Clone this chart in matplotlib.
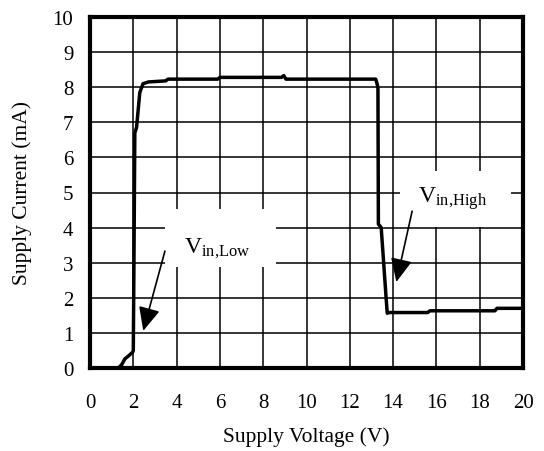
import matplotlib
matplotlib.use("Agg")
import matplotlib.pyplot as plt
from matplotlib.patches import Rectangle

plt.rcParams['font.family'] = ['Liberation Serif', 'DejaVu Serif']
plt.rcParams['mathtext.fontset'] = 'custom'
plt.rcParams['mathtext.rm'] = 'Liberation Serif'
plt.rcParams['mathtext.it'] = 'Liberation Serif:italic'

# Data
voltage = [0.0, 1.31, 1.46, 1.61, 1.77, 1.97, 2.0, 2.03, 2.07, 2.15, 2.3, 2.45, 2.7,
           3.5, 3.6, 5.9, 6.0, 8.85, 8.95, 9.05, 13.2, 13.3, 13.32, 13.45, 13.68,
           13.73, 13.8, 15.6, 15.7, 18.7, 18.8, 20.0]
current = [0.0, 0.0, 0.09, 0.26, 0.34, 0.45, 0.5, 3.0, 6.7, 6.85, 7.85, 8.1, 8.15,
           8.18, 8.23, 8.23, 8.28, 8.28, 8.33, 8.23, 8.23, 8.0, 4.1, 4.0, 1.97,
           1.56, 1.58, 1.58, 1.63, 1.63, 1.7, 1.7]

x_ticks = [0, 2, 4, 6, 8, 10, 12, 14, 16, 18, 20]
y_ticks = [0, 1, 2, 3, 4, 5, 6, 7, 8, 9, 10]

label_low = r'$\mathrm{V}_{\mathrm{in{,}Low}}$'
label_high = r'$\mathrm{V}_{\mathrm{in{,}High}}$'

fig = plt.figure(figsize=(5.44, 4.52), dpi=100)
ax = fig.add_axes([90/544, 1 - 369/452, (523 - 90)/544, (369 - 18)/452])

ax.set_xlim(0, 20)
ax.set_ylim(0, 10)
ax.set_xticks(x_ticks)
ax.set_yticks(y_ticks)
ax.grid(True, color='black', linewidth=1.1, zorder=0)
ax.set_axisbelow(True)

ax.plot(voltage, current, color='black', linewidth=2.5, zorder=4,
        solid_joinstyle='round', solid_capstyle='butt')

for s in ax.spines.values():
    s.set_linewidth(3.0)
    s.set_zorder(6)

ax.tick_params(axis='both', length=0, labelsize=15)
ax.tick_params(axis='x', pad=18)
ax.tick_params(axis='y', pad=12)

ax.set_xlabel('Supply Voltage (V)', fontsize=15.5)
ax.set_ylabel('Supply Current (mA)', fontsize=15.5)
ax.xaxis.set_label_coords(0.5, -0.165)
ax.yaxis.set_label_coords(-0.134, 0.5)

# white label boxes
ax.add_patch(Rectangle((3.46, 2.88), 5.14, 1.65, facecolor='white',
                       edgecolor='none', zorder=2))
ax.add_patch(Rectangle((14.3, 4.02), 5.15, 1.59, facecolor='white',
                       edgecolor='none', zorder=2))

ax.text(4.35, 3.30, label_low, fontsize=17, ha='left', va='baseline', zorder=3)
ax.text(15.15, 4.73, label_high, fontsize=17, ha='left', va='baseline', zorder=3)

arrow_style = '-|>,head_length=1.2,head_width=0.55'
ax.annotate('', xy=(2.46, 1.06), xytext=(3.46, 3.33),
            arrowprops=dict(arrowstyle=arrow_style, color='black', lw=1.2,
                            shrinkA=0, shrinkB=0, mutation_scale=12), zorder=5)
ax.annotate('', xy=(14.15, 2.45), xytext=(14.88, 4.47),
            arrowprops=dict(arrowstyle=arrow_style, color='black', lw=1.2,
                            shrinkA=0, shrinkB=0, mutation_scale=12), zorder=5)

fig.savefig('out.png', dpi=100)
